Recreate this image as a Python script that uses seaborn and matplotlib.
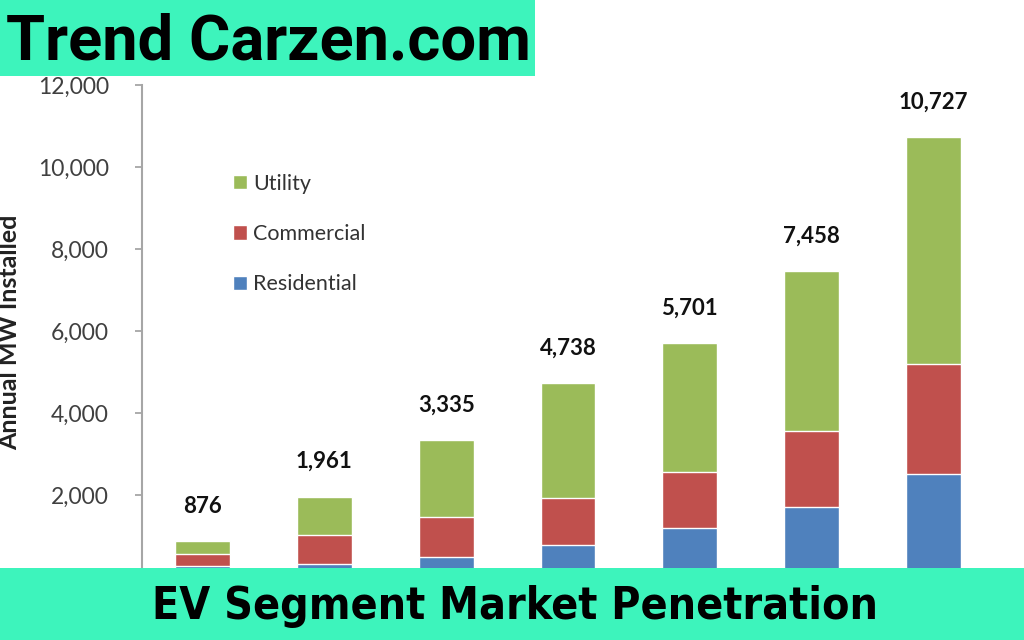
import matplotlib
matplotlib.use("Agg")
import matplotlib.pyplot as plt
import seaborn as sns
import pandas as pd
import numpy as np
from matplotlib.patches import Patch, Rectangle

# ---- data ----
years = ["2010", "2011", "2012", "2013", "2014", "2015", "2016"]   # hidden under banner
residential = [275, 310, 490, 790, 1200, 1715, 2510]
commercial = [286, 720, 975, 1145, 1370, 1855, 2680]
utility = [315, 931, 1870, 2803, 3131, 3888, 5537]
totals = [876, 1961, 3335, 4738, 5701, 7458, 10727]
series_names = ["Utility", "Commercial", "Residential"]
yticks = [2000, 4000, 6000, 8000, 10000, 12000]
top_banner = "Trend Carzen.com"
bottom_banner = "EV Segment Market Penetration"
ylabel = "Annual MW Installed"

C_RES, C_COM, C_UTI = "#4F81BD", "#C0504D", "#9BBB59"
BANNER = "#3DF4BC"

sns.set_theme(style="white")
plt.rcParams["font.family"] = ["Lato", "DejaVu Sans"]

W, H = 1024, 640
fig = plt.figure(figsize=(W / 100, H / 100), dpi=100)
fig.patch.set_facecolor("white")
ax = fig.add_axes([141.6 / W, 1 - 577 / H, (994.4 - 141.6) / W, (577 - 85) / H])

df = pd.DataFrame({"year": years, "res": residential, "com": commercial, "uti": utility})
df["lvl2"] = df["res"] + df["com"]
df["lvl3"] = df["lvl2"] + df["uti"]

sns.barplot(data=df, x="year", y="lvl3", color=C_UTI, saturation=1, width=0.45, ax=ax)
sns.barplot(data=df, x="year", y="lvl2", color=C_COM, saturation=1, width=0.45, ax=ax)
sns.barplot(data=df, x="year", y="res", color=C_RES, saturation=1, width=0.45, ax=ax)

for i, (y, t) in enumerate(zip(df["lvl3"], totals)):
    ax.annotate(f"{t:,}", (i, y), xytext=(0, 25.2), textcoords="offset points",
                ha="center", va="center", fontsize=16, fontweight="bold", color="#111111")

ax.set_xlim(-0.5, 6.5)
ax.set_ylim(0, 12000)
ax.set_yticks(yticks)
ax.set_yticklabels([f"{v:,}" for v in yticks])
ax.set_xticks([])
ax.set_xlabel("")
ax.set_ylabel("")
for s in ["top", "right", "bottom"]:
    ax.spines[s].set_visible(False)
ax.spines["left"].set_color("#A6A6A6")
ax.spines["left"].set_linewidth(1.5)
ax.tick_params(axis="y", which="major", left=True, length=5, width=1.3, color="#A6A6A6",
               pad=18.4, labelsize=16.5, labelcolor="#404040", direction="out")

handles = [Patch(facecolor=C_UTI), Patch(facecolor=C_COM), Patch(facecolor=C_RES)]
leg = ax.legend(handles, series_names, loc="upper left",
                bbox_to_anchor=((224.4 - 141.6) / (994.4 - 141.6), (577 - 165) / (577 - 85)),
                frameon=False, fontsize=15.5, handlelength=0.65, handleheight=0.65,
                handletextpad=0.28, labelspacing=1.41, borderaxespad=0)
for t in leg.get_texts():
    t.set_color("#333333")

fig.text(10 / W, 1 - 332 / H, ylabel, rotation=90, ha="center", va="center",
         fontsize=18, fontweight="bold", color="#222222")

# banners
fig.add_artist(Rectangle((0, 1 - 76 / H), 535 / W, 76 / H, transform=fig.transFigure,
                         facecolor=BANNER, edgecolor="none", zorder=5))
fig.add_artist(Rectangle((0, 0), 1, 72 / H, transform=fig.transFigure,
                         facecolor=BANNER, edgecolor="none", zorder=5))
fig.text(6 / W, 1 - 42 / H, top_banner, ha="left", va="center", fontsize=45.5,
         fontweight="bold", color="black", family=["Roboto", "DejaVu Sans"], zorder=6)
fig.text(515 / W, 1 - 606 / H, bottom_banner, ha="center", va="center", fontsize=32,
         fontweight="bold", fontstretch="condensed", color="black",
         family=["DejaVu Sans", "Roboto"], zorder=6)

fig.savefig("out.png", dpi=100)
